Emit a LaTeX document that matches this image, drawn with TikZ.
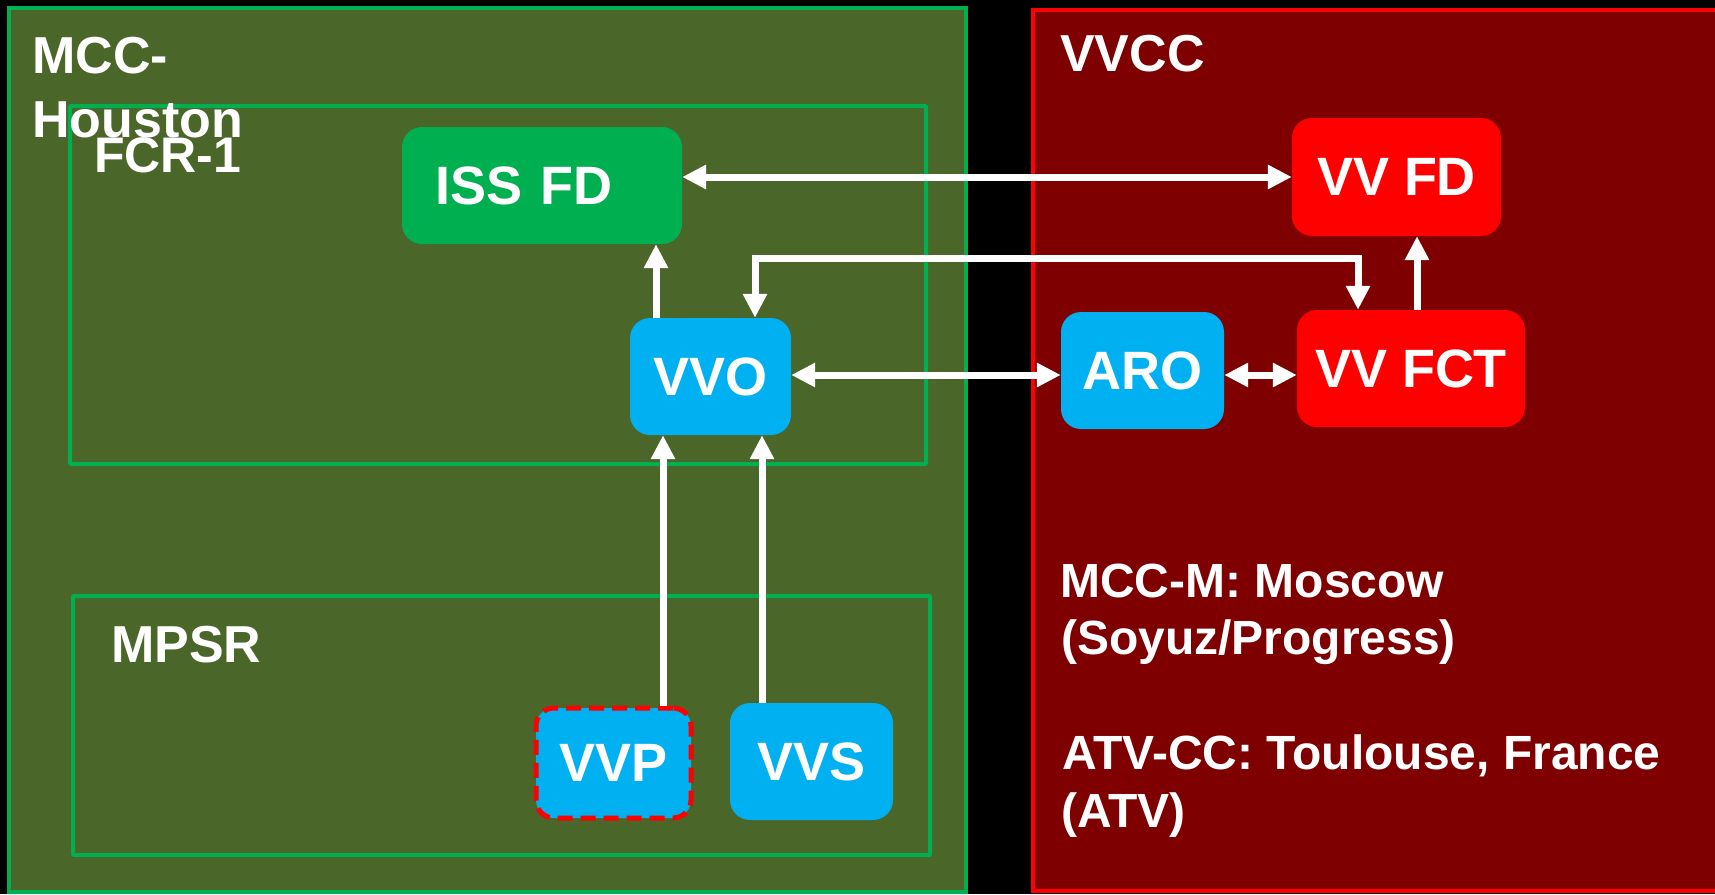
\documentclass[tikz,border=0pt]{standalone}
\usepackage{fontspec}
\setmainfont{Liberation Sans}
\usetikzlibrary{arrows.meta,calc}
\definecolor{mgreen}{HTML}{00B050}
\definecolor{molive}{HTML}{4A6629}
\definecolor{mdred}{HTML}{7F0000}
\definecolor{mred}{HTML}{FF0000}
\definecolor{mblue}{HTML}{00B0F0}
\tikzset{
  zone/.style={line width=4pt},
  box/.style={rounded corners=20pt, inner sep=0pt, text=white, font=\bfseries\fontsize{54}{60}\selectfont},
  lbl/.style={anchor=base west, inner sep=0pt, text=white, font=\bfseries\fontsize{52}{60}\selectfont},
  note/.style={anchor=base west, inner sep=0pt, text=white, font=\bfseries\fontsize{48}{56}\selectfont},
  tip/.tip={Triangle[length=24pt,width=23pt]},
  arr/.style={draw=white, line width=7pt, -tip},
  darr/.style={draw=white, line width=7pt, tip-tip},
}
\begin{document}
\begin{tikzpicture}[x=1pt,y=-1pt]
\fill[black] (0,0) rectangle (1715,894);
\useasboundingbox (0,0) rectangle (1715,894);
% zones
\draw[zone, draw=mgreen, fill=molive] (9,8) rectangle (966,892);
\draw[zone, draw=mred, fill=mdred] (1033,10) rectangle (1740,891);
\draw[zone, draw=mgreen, rounded corners=1pt] (70,106) rectangle (926,464);
\draw[zone, draw=mgreen, rounded corners=1pt] (73,596) rectangle (930,855);
% titles
\node[lbl] (mcc1) at (32,73) {MCC-};
\node[lbl] (mcc2) at (32,137) {Houston};
\node[lbl, font=\bfseries\fontsize{50}{58}\selectfont] (fcr) at (94,172) {FCR-1};
\node[lbl] (mpsr) at (111,662) {MPSR};
\node[lbl] (vvcc) at (1060,71) {VVCC};
\node[note] (t1) at (1060,597) {MCC-M: Moscow};
\node[note] (t2) at (1061,654) {(Soyuz/Progress)};
\node[note] (t3) at (1062,769) {ATV-CC: Toulouse, France};
\node[note] (t4) at (1061,827) {(ATV)};
% boxes
\node[box, fill=mgreen, minimum width=280pt, minimum height=117pt, text width=214pt, inner xsep=33pt, align=left] (issfd) at (542,185.5) {ISS FD};
\node[box, fill=mred, minimum width=209pt, minimum height=118pt] (vvfd) at (1396.5,177) {VV FD};
\node[box, fill=mblue, minimum width=161pt, minimum height=117pt] (vvo) at (710.5,376.5) {VVO};
\node[box, fill=mblue, minimum width=163pt, minimum height=117pt] (aro) at (1142.5,370.5) {ARO};
\node[box, fill=mred, minimum width=228pt, minimum height=117pt] (vvfct) at (1411,368.5) {VV FCT};
\node[box, fill=mblue, draw=mred, dash pattern=on 15pt off 8pt, line width=5pt, rounded corners=18pt, minimum width=155pt, minimum height=110pt] (vvp) at (613.5,763) {VVP};
\node[box, fill=mblue, minimum width=163pt, minimum height=117pt] (vvs) at (811.5,761.5) {VVS};
% connectors
\draw[darr] (issfd.east |- vvfd.west) -- (vvfd.west);
\draw[arr] ([xshift=-54.5pt]vvo.north) -- ([xshift=-54.5pt]vvo.north |- issfd.south);
\draw[darr] ([xshift=44.5pt]vvo.north) -- ++(0,-59) -| ([xshift=-53pt]vvfct.north);
\draw[arr] ([xshift=6pt]vvfct.north) -- ([xshift=6pt]vvfct.north |- vvfd.south);
\draw[darr] ([yshift=1.5pt]vvo.east) -- ([yshift=1.5pt]vvo.east -| aro.west);
\draw[darr] ([yshift=-4.5pt]aro.east) -- ([yshift=-4.5pt]aro.east -| vvfct.west);
\draw[arr] ([xshift=49.5pt]vvp.north) -- ([xshift=49.5pt]vvp.north |- vvo.south);
\draw[arr] ([xshift=-49.5pt]vvs.north) -- ([xshift=-49.5pt]vvs.north |- vvo.south);
\end{tikzpicture}
\end{document}
